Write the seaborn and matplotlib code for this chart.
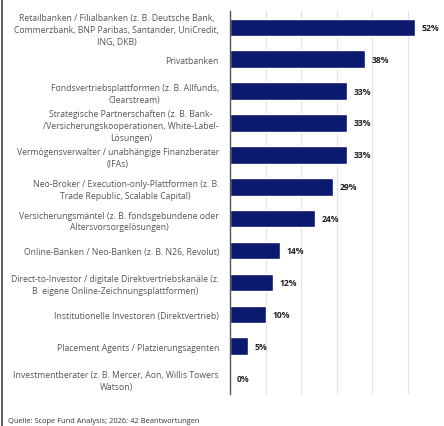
import matplotlib
matplotlib.use("Agg")
import matplotlib.pyplot as plt
import seaborn as sns
import pandas as pd

categories = [
    "Retailbanken / Filialbanken (z. B. Deutsche Bank,\nCommerzbank, BNP Paribas, Santander, UniCredit,\nING, DKB)",
    "Privatbanken",
    "Fondsvertriebsplattformen (z. B. Allfunds,\nClearstream)",
    "Strategische Partnerschaften (z. B. Bank-\n/Versicherungskooperationen, White-Label-\nLösungen)",
    "Vermögensverwalter / unabhängige Finanzberater\n(IFAs)",
    "Neo-Broker / Execution-only-Plattformen (z. B.\nTrade Republic, Scalable Capital)",
    "Versicherungsmäntel (z. B. fondsgebundene oder\nAltersvorsorgelösungen)",
    "Online-Banken / Neo-Banken (z. B. N26, Revolut)",
    "Direct-to-Investor / digitale Direktvertriebskanäle (z.\nB. eigene Online-Zeichnungsplattformen)",
    "Institutionelle Investoren (Direktvertrieb)",
    "Placement Agents / Platzierungsagenten",
    "Investmentberater (z. B. Mercer, Aon, Willis Towers\nWatson)",
]
values = [52, 38, 33, 33, 33, 29, 24, 14, 12, 10, 5, 0]
value_labels = ["52%", "38%", "33%", "33%", "33%", "29%", "24%", "14%", "12%", "10%", "5%", "0%"]
source = "Quelle: Scope Fund Analysis; 2026: 42 Beantwortungen"

df = pd.DataFrame({"cat": categories, "val": values})

sns.set_style("white")
plt.rcParams["font.family"] = ["Open Sans", "DejaVu Sans"]

fig = plt.figure(figsize=(4.44, 4.27), dpi=100)
ax = fig.add_axes([0.518, 0.075, 0.48, 0.896])

sns.barplot(data=df, x="val", y="cat", color="#0b1a6e", width=0.55, ax=ax,
            saturation=1, orient="h")

ax.set_xlim(0, 60)
ax.set_xticks(range(0, 61, 10))
ax.xaxis.grid(True, color="#e2e2e2", linewidth=0.8)
ax.set_axisbelow(True)
ax.tick_params(axis="x", length=0, labelbottom=False)
ax.tick_params(axis="y", length=0, pad=8)
for lab in ax.get_yticklabels():
    lab.set_fontsize(6.2)
    lab.set_color("#555555")
    lab.set_linespacing(1.4)
    lab.set_multialignment("center")
ax.set_xlabel("")
ax.set_ylabel("")
for s in ["top", "right", "bottom"]:
    ax.spines[s].set_visible(False)
ax.spines["left"].set_color("#555555")
ax.spines["left"].set_linewidth(1.0)

for i, (v, t) in enumerate(zip(values, value_labels)):
    ax.text(v + 1.9, i, t, va="center", ha="left", fontsize=6.2,
            fontweight="bold", color="#222222")

fig.text(0.018, 0.004, source, fontsize=5.4, color="#333333", ha="left", va="bottom")
fig.add_artist(plt.Line2D([0.004, 0.004], [0, 1], transform=fig.transFigure,
                          color="#444444", linewidth=1.2))

fig.savefig("out.png", dpi=100)
